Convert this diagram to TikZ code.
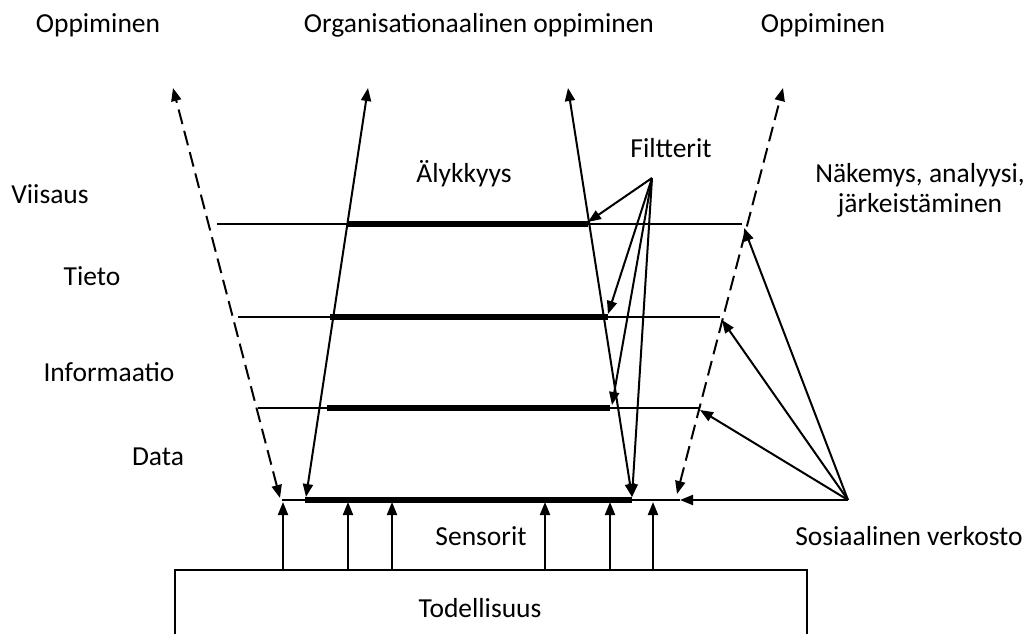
\documentclass[tikz,border=0pt]{standalone}
\usepackage{fontspec}
\setmainfont{Carlito}
\usetikzlibrary{arrows.meta}
\tikzset{
  lbl/.style={inner sep=0pt, font=\fontsize{27.5}{30}\selectfont},
  thinln/.style={line width=1.9pt},
  thickln/.style={line width=5.5pt},
  arr/.style={line width=2pt, -{Triangle[length=13pt,width=10pt]}},
  darr/.style={line width=2pt, {Triangle[length=13pt,width=10pt]}-{Triangle[length=13pt,width=10pt]}},
  dasharr/.style={darr, dash pattern=on 15pt off 7pt},
  realbox/.style={draw, line width=1.9pt, minimum width=632pt, minimum height=90pt, inner sep=0pt},
}
\begin{document}
\begin{tikzpicture}[x=1pt,y=-1pt]
  \useasboundingbox (0,0) rectangle (1030,634);
  \clip (0,0) rectangle (1030,634);

  % labels
  \node[lbl, anchor=base] (opl) at (98,33) {Oppiminen};
  \node[lbl, anchor=base] (org) at (479,33) {Organisationaalinen oppiminen};
  \node[lbl, anchor=base] (opr) at (823,33) {Oppiminen};
  \node[lbl, align=center] (nak) at (920,190) {Näkemys, analyysi,\\järkeistäminen};
  \node[lbl, anchor=base] (vii) at (50,203) {Viisaus};
  \node[lbl, anchor=base] (tie) at (92,285) {Tieto};
  \node[lbl, anchor=base] (inf) at (109,381) {Informaatio};
  \node[lbl, anchor=base] (dat) at (158,465) {Data};
  \node[lbl, anchor=base] (aly) at (464,182) {Älykkyys};
  \node[lbl, anchor=base] (fil) at (671,157) {Filtterit};
  \node[lbl, anchor=base] (sen) at (481,545) {Sensorit};
  \node[lbl, anchor=base] (sos) at (909,545) {Sosiaalinen verkosto};

  % reality box
  \node[realbox] (real) at (491,615) {};
  \node[lbl, anchor=base] (tod) at (480,617) {Todellisuus};

  % levels
  \draw[thinln] (217,224) -- (742,224);
  \draw[thickln] (348,224) -- (588,224);
  \draw[thinln] (238,317) -- (720,317);
  \draw[thickln] (330,317) -- (608,317);
  \draw[thinln] (258,408) -- (700,408);
  \draw[thickln] (327,408) -- (610,408);
  \draw[thinln] (282,500) -- (680,500);
  \draw[thickln] (305,500) -- (632,500);

  % learning loops
  \coordinate (ld0) at (280,498); \coordinate (ld1) at (173,88);
  \coordinate (ls0) at (306,497); \coordinate (ls1) at (368,88);
  \coordinate (rs0) at (632,497); \coordinate (rs1) at (568,88);
  \coordinate (rd0) at (677,494); \coordinate (rd1) at (783,88);
  \draw[dasharr] (ld0) -- (ld1);
  \draw[darr] (ls0) -- (ls1);
  \draw[darr] (rs0) -- (rs1);
  \draw[dasharr] (rd0) -- (rd1);

  % filters
  \coordinate (fhub) at (652,178);
  \coordinate (fv) at (588,222);
  \coordinate (ft) at (608,314);
  \coordinate (fi) at (612,405);
  \coordinate (fd) at (632,497);
  \foreach \t in {fv,ft,fi,fd}
    \draw[arr] (fhub) -- (\t);

  % social network
  \coordinate (shub) at (848,500);
  \coordinate (sv) at (744,228);
  \coordinate (st) at (722,320);
  \coordinate (si) at (700,410);
  \coordinate (sd) at (680,500);
  \foreach \t in {sv,st,si,sd}
    \draw[arr] (shub) -- (\t);

  % sensors
  \foreach \sx [count=\i] in {283,348,392,545,610,653} {
    \coordinate (sb\i) at (\sx,570);
    \coordinate (st\i) at (\sx,502);
    \draw[arr] (sb\i) -- (st\i);
  }
\end{tikzpicture}
\end{document}
